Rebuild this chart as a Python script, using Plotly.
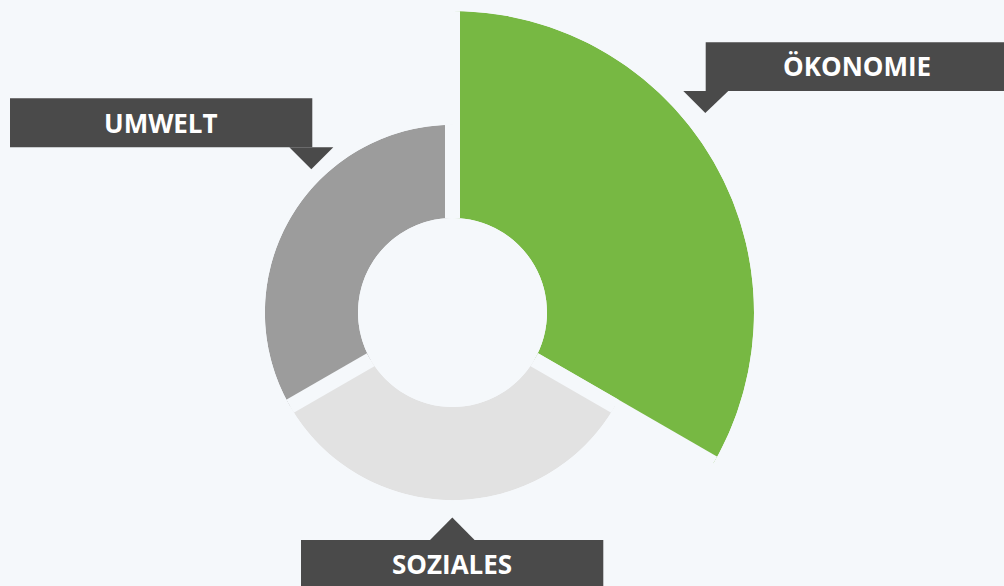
import math
import plotly.graph_objects as go

# ---- data ----
categories = ["ÖKONOMIE", "SOZIALES", "UMWELT"]
values = [100, 45, 45]          # relative outer extent of each segment
shares = [1, 1, 1]              # angular share of each segment
colors = ["#77b843", "#e2e2e2", "#9c9c9c"]

# ---- layout constants (pixels) ----
W, H = 1004, 586
BG = "#f5f8fb"
CX, CY = 452.5, 312.5           # centre of the donut
R_HOLE = 94.5                   # radius mapped to r = 0
R_MAX = 301.5                   # radius mapped to the largest value
GAP = 15
PAD_DEG = 6                     # extra sector span so gap lines are not clipped
BOX = "#4a4a4a"

total = sum(shares)
widths = [360.0 * s / total for s in shares]
starts = [sum(widths[:i]) for i in range(len(widths))]
centers = [s + w / 2 for s, w in zip(starts, widths)]
vmax = max(values)
px_per_unit = (R_MAX - R_HOLE) / vmax


def sector_bbox(s0, s1):
    pts = [(0.0, 0.0), (math.cos(math.radians(s0)), math.sin(math.radians(s0))),
           (math.cos(math.radians(s1)), math.sin(math.radians(s1)))]
    a = math.ceil(s0 / 90.0) * 90
    while a <= s1:
        pts.append((math.cos(math.radians(a)), math.sin(math.radians(a))))
        a += 90
    xs = [p[0] for p in pts]
    ys = [p[1] for p in pts]
    return min(xs), min(ys), max(xs), max(ys)


def domain_for(radius, bbox):
    x0, y0, x1, y1 = bbox
    left = CX + x0 * radius
    right = CX + x1 * radius
    top = CY - y1 * radius
    bottom = CY - y0 * radius
    return dict(x=[left / W, right / W], y=[1 - bottom / H, 1 - top / H])


def gap_lines(bounds, rmax, subplot):
    r, th = [], []
    for b in bounds:
        r += [0, rmax, None]
        th += [b, b, None]
    return go.Scatterpolar(r=r, theta=th, mode="lines", line=dict(color=BG, width=GAP),
                           hoverinfo="skip", subplot=subplot, name="")


fig = go.Figure()

big = [i for i, v in enumerate(values) if v == vmax]
small = [i for i, v in enumerate(values) if v != vmax]

# largest segment in its own sector subplot
i0 = big[0]
sec = [90 - (starts[i0] + widths[i0]) - PAD_DEG, 90 - starts[i0] + PAD_DEG]
fig.add_trace(go.Barpolar(
    r=[values[i] for i in big], theta=[centers[i] for i in big],
    width=[widths[i] for i in big], name="",
    marker=dict(color=[colors[i] for i in big], line=dict(width=0)),
    hoverinfo="skip", subplot="polar"))
fig.add_trace(gap_lines([starts[i0], starts[i0] + widths[i0]], vmax, "polar"))

small_max = max(values[i] for i in small)
R2 = R_HOLE + small_max * px_per_unit
fig.add_trace(go.Barpolar(
    r=[values[i] for i in small], theta=[centers[i] for i in small],
    width=[widths[i] for i in small], name="",
    marker=dict(color=[colors[i] for i in small], line=dict(width=0)),
    hoverinfo="skip", subplot="polar2"))
fig.add_trace(gap_lines(starts, small_max, "polar2"))

common_ang = dict(visible=False, direction="clockwise", rotation=90, showgrid=False)
fig.update_layout(
    width=W, height=H,
    margin=dict(l=0, r=0, t=0, b=0),
    paper_bgcolor=BG, plot_bgcolor=BG,
    showlegend=False,
    polar=dict(
        domain=domain_for(R_MAX, sector_bbox(*sec)),
        sector=sec, hole=R_HOLE / R_MAX, bgcolor="rgba(0,0,0,0)",
        radialaxis=dict(visible=False, range=[0, vmax], showgrid=False),
        angularaxis=common_ang),
    polar2=dict(
        domain=domain_for(R2, (-1, -1, 1, 1)),
        hole=R_HOLE / R2, bgcolor="rgba(0,0,0,0)",
        radialaxis=dict(visible=False, range=[0, small_max], showgrid=False),
        angularaxis=common_ang),
)


def px(x):
    return x / W


def py(y):
    return 1 - y / H


def poly(points):
    return "M " + " L ".join(f"{px(x)} {py(y)}" for x, y in points) + " Z"


# callout boxes: (category, box left/top/right/bottom, pointer triangle)
callouts = [
    ("ÖKONOMIE", (705.7, 42.3, 1010, 91.0), [(683.3, 91.0), (705.3, 113.0), (728.3, 91.0)]),
    ("UMWELT", (10.0, 98.3, 312.3, 147.3), [(289.3, 147.3), (311.3, 169.3), (333.3, 147.3)]),
    ("SOZIALES", (301.0, 540.0, 603.3, 600), [(430.0, 540.0), (452.3, 517.5), (474.6, 540.0)]),
]
shapes = []
annotations = []
for name, (l, t, r, b), tri in callouts:
    shapes.append(dict(type="rect", xref="paper", yref="paper", x0=px(l), x1=px(r),
                       y0=py(b), y1=py(t), fillcolor=BOX, line=dict(width=0), layer="above"))
    shapes.append(dict(type="path", xref="paper", yref="paper", path=poly(tri),
                       fillcolor=BOX, line=dict(width=0), layer="above"))
label_pos = {"ÖKONOMIE": (856.5, 66.5), "UMWELT": (160.5, 123.5), "SOZIALES": (452.3, 564.0)}
for name in categories:
    x, y = label_pos[name]
    annotations.append(dict(x=px(x), y=py(y), xref="paper", yref="paper", text=name,
                            showarrow=False, xanchor="center", yanchor="middle",
                            font=dict(family="Open Sans", size=26, color="white", weight=700)))
fig.update_layout(shapes=shapes, annotations=annotations)

fig.write_html(
    "out.html",
    config={"displayModeBar": False, "staticPlot": True},
    post_script="document.body.style.margin='0';document.body.style.overflow='hidden';",
)
